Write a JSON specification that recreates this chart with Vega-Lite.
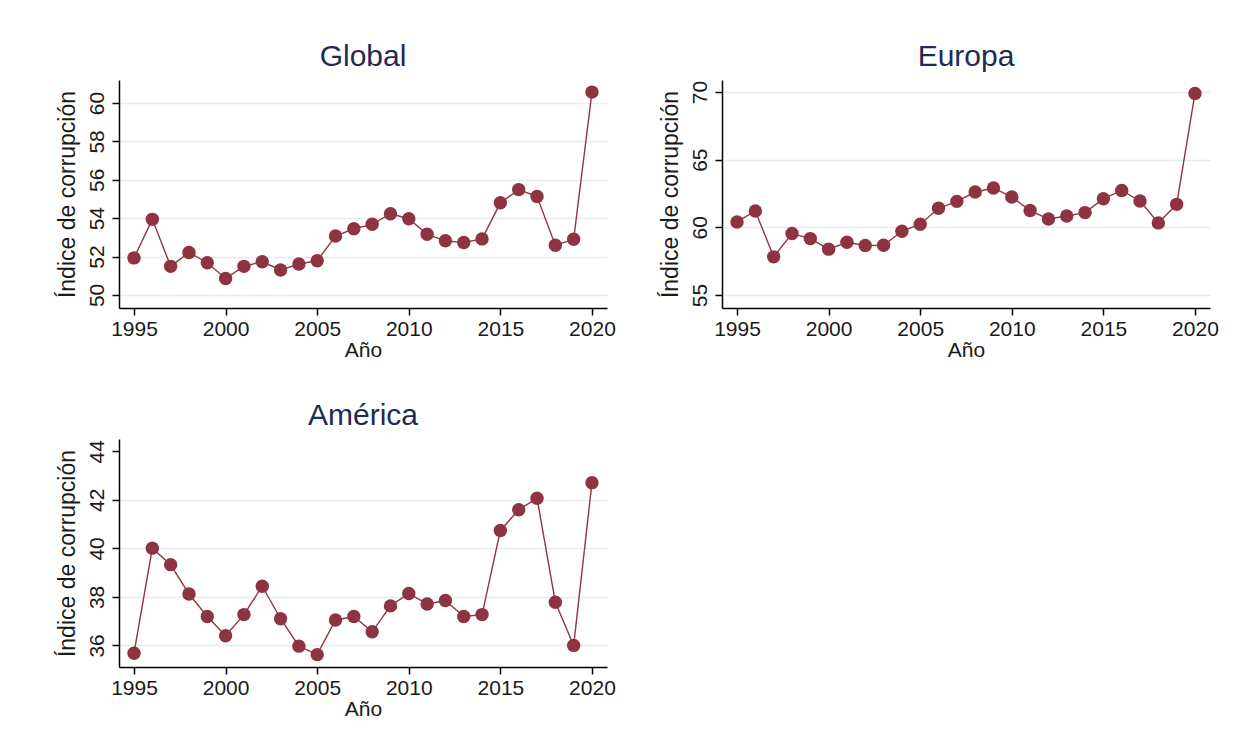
{
  "$schema": "https://vega.github.io/schema/vega-lite/v6.json",
  "background": "white",
  "padding": {"left": 55, "top": 42, "right": 10, "bottom": 10},
  "datasets": {
    "corr": [
      {"region": "Global", "year": 1995, "value": 51.93},
      {"region": "Global", "year": 1996, "value": 53.94},
      {"region": "Global", "year": 1997, "value": 51.49},
      {"region": "Global", "year": 1998, "value": 52.21},
      {"region": "Global", "year": 1999, "value": 51.68},
      {"region": "Global", "year": 2000, "value": 50.86},
      {"region": "Global", "year": 2001, "value": 51.49},
      {"region": "Global", "year": 2002, "value": 51.73},
      {"region": "Global", "year": 2003, "value": 51.30},
      {"region": "Global", "year": 2004, "value": 51.61},
      {"region": "Global", "year": 2005, "value": 51.78},
      {"region": "Global", "year": 2006, "value": 53.07},
      {"region": "Global", "year": 2007, "value": 53.45},
      {"region": "Global", "year": 2008, "value": 53.68},
      {"region": "Global", "year": 2009, "value": 54.23},
      {"region": "Global", "year": 2010, "value": 53.97},
      {"region": "Global", "year": 2011, "value": 53.16},
      {"region": "Global", "year": 2012, "value": 52.82},
      {"region": "Global", "year": 2013, "value": 52.73},
      {"region": "Global", "year": 2014, "value": 52.92},
      {"region": "Global", "year": 2015, "value": 54.80},
      {"region": "Global", "year": 2016, "value": 55.49},
      {"region": "Global", "year": 2017, "value": 55.13},
      {"region": "Global", "year": 2018, "value": 52.59},
      {"region": "Global", "year": 2019, "value": 52.90},
      {"region": "Global", "year": 2020, "value": 60.57},
      {"region": "Europa", "year": 1995, "value": 60.40},
      {"region": "Europa", "year": 1996, "value": 61.21},
      {"region": "Europa", "year": 1997, "value": 57.82},
      {"region": "Europa", "year": 1998, "value": 59.54},
      {"region": "Europa", "year": 1999, "value": 59.17},
      {"region": "Europa", "year": 2000, "value": 58.39},
      {"region": "Europa", "year": 2001, "value": 58.90},
      {"region": "Europa", "year": 2002, "value": 58.66},
      {"region": "Europa", "year": 2003, "value": 58.68},
      {"region": "Europa", "year": 2004, "value": 59.71},
      {"region": "Europa", "year": 2005, "value": 60.23},
      {"region": "Europa", "year": 2006, "value": 61.41},
      {"region": "Europa", "year": 2007, "value": 61.92},
      {"region": "Europa", "year": 2008, "value": 62.61},
      {"region": "Europa", "year": 2009, "value": 62.91},
      {"region": "Europa", "year": 2010, "value": 62.24},
      {"region": "Europa", "year": 2011, "value": 61.24},
      {"region": "Europa", "year": 2012, "value": 60.62},
      {"region": "Europa", "year": 2013, "value": 60.84},
      {"region": "Europa", "year": 2014, "value": 61.09},
      {"region": "Europa", "year": 2015, "value": 62.12},
      {"region": "Europa", "year": 2016, "value": 62.73},
      {"region": "Europa", "year": 2017, "value": 61.95},
      {"region": "Europa", "year": 2018, "value": 60.33},
      {"region": "Europa", "year": 2019, "value": 61.70},
      {"region": "Europa", "year": 2020, "value": 69.90},
      {"region": "América", "year": 1995, "value": 35.68},
      {"region": "América", "year": 1996, "value": 40.01},
      {"region": "América", "year": 1997, "value": 39.33},
      {"region": "América", "year": 1998, "value": 38.12},
      {"region": "América", "year": 1999, "value": 37.19},
      {"region": "América", "year": 2000, "value": 36.40},
      {"region": "América", "year": 2001, "value": 37.27},
      {"region": "América", "year": 2002, "value": 38.44},
      {"region": "América", "year": 2003, "value": 37.10},
      {"region": "América", "year": 2004, "value": 35.97},
      {"region": "América", "year": 2005, "value": 35.62},
      {"region": "América", "year": 2006, "value": 37.05},
      {"region": "América", "year": 2007, "value": 37.19},
      {"region": "América", "year": 2008, "value": 36.56},
      {"region": "América", "year": 2009, "value": 37.63},
      {"region": "América", "year": 2010, "value": 38.14},
      {"region": "América", "year": 2011, "value": 37.71},
      {"region": "América", "year": 2012, "value": 37.85},
      {"region": "América", "year": 2013, "value": 37.19},
      {"region": "América", "year": 2014, "value": 37.27},
      {"region": "América", "year": 2015, "value": 40.74},
      {"region": "América", "year": 2016, "value": 41.59},
      {"region": "América", "year": 2017, "value": 42.07},
      {"region": "América", "year": 2018, "value": 37.78},
      {"region": "América", "year": 2019, "value": 36.00},
      {"region": "América", "year": 2020, "value": 42.71}
    ]
  },
  "data": {"name": "corr"},
  "columns": 2,
  "bounds": "flush",
  "spacing": {"row": 131, "column": 115},
  "concat": [
    {
      "title": {"text": "Global", "frame": "group"},
      "width": 488,
      "height": 228,
      "transform": [{"filter": "datum.region === 'Global'"}],
      "encoding": {
        "x": {"field": "year", "type": "quantitative", "scale": {"domain": [1994.18, 2020.82], "nice": false, "zero": false}, "axis": {"values": [1995, 2000, 2005, 2010, 2015, 2020], "format": "d", "title": "Año"}},
        "y": {"field": "value", "type": "quantitative", "scale": {"domain": [49.32, 61.2], "nice": false, "zero": false}, "axis": {"values": [50, 52, 54, 56, 58, 60], "title": "Índice de corrupción"}}
      },
      "layer": [
        {"mark": {"type": "line", "color": "#913641", "strokeWidth": 1.4}},
        {"mark": {"type": "point", "filled": true, "opacity": 1, "size": 180, "color": "#8e3340"}}
      ]
    },
    {
      "title": {"text": "Europa", "frame": "group"},
      "width": 488,
      "height": 228,
      "transform": [{"filter": "datum.region === 'Europa'"}],
      "encoding": {
        "x": {"field": "year", "type": "quantitative", "scale": {"domain": [1994.18, 2020.82], "nice": false, "zero": false}, "axis": {"values": [1995, 2000, 2005, 2010, 2015, 2020], "format": "d", "title": "Año"}},
        "y": {"field": "value", "type": "quantitative", "scale": {"domain": [54.04, 70.89], "nice": false, "zero": false}, "axis": {"values": [55, 60, 65, 70], "title": "Índice de corrupción"}}
      },
      "layer": [
        {"mark": {"type": "line", "color": "#913641", "strokeWidth": 1.4}},
        {"mark": {"type": "point", "filled": true, "opacity": 1, "size": 180, "color": "#8e3340"}}
      ]
    },
    {
      "title": {"text": "América", "frame": "group"},
      "width": 488,
      "height": 228,
      "transform": [{"filter": "datum.region === 'América'"}],
      "encoding": {
        "x": {"field": "year", "type": "quantitative", "scale": {"domain": [1994.18, 2020.82], "nice": false, "zero": false}, "axis": {"values": [1995, 2000, 2005, 2010, 2015, 2020], "format": "d", "title": "Año"}},
        "y": {"field": "value", "type": "quantitative", "scale": {"domain": [35.11, 44.51], "nice": false, "zero": false}, "axis": {"values": [36, 38, 40, 42, 44], "title": "Índice de corrupción", "gridColor": {"condition": {"test": "datum.value === 44", "value": "transparent"}, "value": "#e5ecf1"}}}
      },
      "layer": [
        {"mark": {"type": "line", "color": "#913641", "strokeWidth": 1.4}},
        {"mark": {"type": "point", "filled": true, "opacity": 1, "size": 180, "color": "#8e3340"}}
      ]
    }
  ],
  "config": {
    "view": {"stroke": null},
    "font": "Liberation Sans",
    "axis": {
      "domainColor": "#000000",
      "domainWidth": 1.5,
      "tickColor": "#000000",
      "tickWidth": 1.5,
      "tickSize": 7,
      "labelFont": "Liberation Sans",
      "labelFontSize": 21,
      "labelColor": "#1a1a1a",
      "labelFlush": false,
      "labelOverlap": false,
      "titleFont": "Liberation Sans",
      "titleFontSize": 21,
      "titleFontWeight": "normal",
      "titleColor": "#1a1a1a",
      "gridColor": "#e5ecf1",
      "gridWidth": 1.5
    },
    "axisX": {"grid": false, "labelPadding": 3, "titlePadding": 0},
    "axisY": {"grid": true, "labelAngle": 270, "labelAlign": "center", "labelBaseline": "bottom", "labelPadding": 5, "titlePadding": 7, "titleFontSize": 23},
    "title": {"fontSize": 30, "fontWeight": "normal", "color": "#1e2b55", "font": "Liberation Sans", "offset": 8, "anchor": "middle"}
  }
}
